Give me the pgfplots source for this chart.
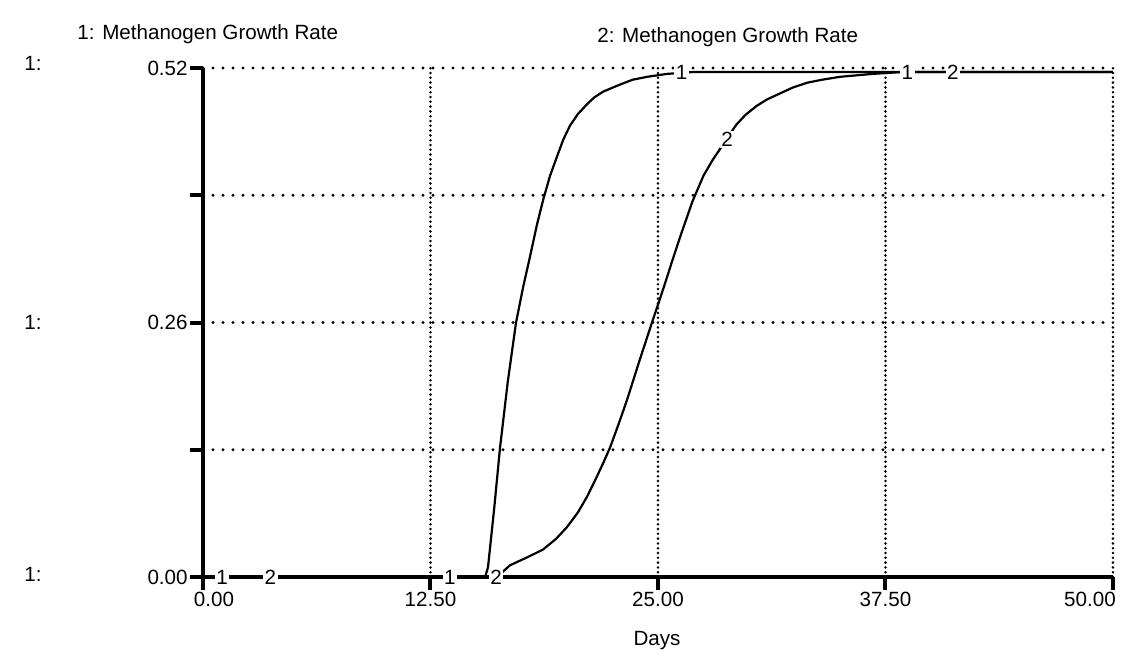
\documentclass[border=0pt]{standalone}
\usepackage{fontspec}
\setmainfont{Liberation Sans}
\usepackage{pgfplots}
\pgfplotsset{compat=1.18}

\begin{document}
\fontsize{10.3}{12}\selectfont
\begin{tikzpicture}
\begin{axis}[
    width=455pt, height=254.5pt, scale only axis,
    xmin=0, xmax=50, ymin=0, ymax=0.52,
    axis lines*=left,
    axis line style={-, line width=2.2pt},
    tick align=outside,
    major tick length=6.5pt,
    every tick/.style={black, line width=2pt},
    xtick={0,12.5,25,37.5,50},
    xticklabels={\makebox[0pt]{\hspace{11pt}0.00},12.50,25.00,37.50,\makebox[0pt]{50.00\hspace{23pt}}},
    ytick={0,0.13,0.26,0.39,0.52},
    yticklabels={0.00,,0.26,,0.52},
    xticklabel style={inner sep=1pt},
    yticklabel style={inner sep=1pt},
    grid=major,
    major x grid style={black, line width=1.4pt, line cap=round, dash pattern=on 0pt off 2.4pt},
    major y grid style={black, line width=1.6pt, line cap=round, dash pattern=on 0pt off 5pt},
    clip=false,
]
% 1: Methanogen Growth Rate
\addplot[black, line width=1.1pt] coordinates {
  (0,0) (15.5,0) (15.66,0.01) (16.0,0.07) (16.32,0.132) (16.75,0.2) (17.2,0.26)
  (17.6,0.297) (18.0,0.33) (18.35,0.36) (18.7,0.386) (19.07,0.41) (19.5,0.432)
  (19.8,0.447) (20.16,0.461) (20.6,0.473) (21.1,0.483) (21.5,0.49) (22.0,0.496)
  (22.9,0.503) (23.6,0.508) (24.4,0.511) (25.5,0.514) (27,0.516) (50,0.516)
};
% 2: Methanogen Growth Rate
\addplot[black, line width=1.1pt] coordinates {
  (0,0) (16.15,0) (16.87,0.012) (17.8,0.02) (18.68,0.028) (19.4,0.039) (20.0,0.051)
  (20.6,0.066) (21.1,0.082) (21.55,0.099) (21.98,0.116) (22.36,0.132) (22.85,0.157)
  (23.3,0.181) (24.0,0.222) (24.67,0.26) (25.3,0.295) (25.8,0.324) (26.3,0.352)
  (26.9,0.384) (27.5,0.41) (28.0,0.426) (28.4,0.437) (28.9,0.451) (29.3,0.462)
  (29.8,0.472) (30.4,0.481) (31.0,0.488) (31.7,0.494) (32.4,0.5) (33.2,0.505)
  (34.0,0.508) (35.0,0.511) (36.8,0.514) (38.5,0.516) (50,0.516)
};
\coordinate (O) at (rel axis cs:0,0);
% curve labels
\tikzset{lab/.style={fill=white, inner sep=0.8pt}}
\node[lab] at (axis cs:1.05,0) {1};
\node[lab] at (axis cs:3.7,0) {2};
\node[lab] at (axis cs:13.57,0) {1};
\node[lab] at (axis cs:16.1,0) {2};
\node[lab] at (axis cs:26.3,0.516) {1};
\node[lab] at (axis cs:28.8,0.447) {2};
\node[lab] at (axis cs:38.7,0.516) {1};
\node[lab] at (axis cs:41.2,0.516) {2};
% scale labels
\node[anchor=west, inner sep=0pt] at (axis cs:-9.84,0.525) {1:};
\node[anchor=west, inner sep=0pt] at (axis cs:-9.84,0.26) {1:};
\node[anchor=west, inner sep=0pt] at (axis cs:-9.84,0.003) {1:};
% titles
\node[anchor=west, inner sep=0pt] at (axis cs:-6.92,0.555) {1: Methanogen Growth Rate};
\node[anchor=west, inner sep=0pt] at (axis cs:21.65,0.551) {2: Methanogen Growth Rate};
\node at (axis cs:24.95,-0.065) {Days};
\end{axis}
\pgfresetboundingbox
\path[use as bounding box] ([shift={(-101.5pt,-44pt)}]O) rectangle ([shift={(461pt,288.5pt)}]O);
\end{tikzpicture}
\end{document}
